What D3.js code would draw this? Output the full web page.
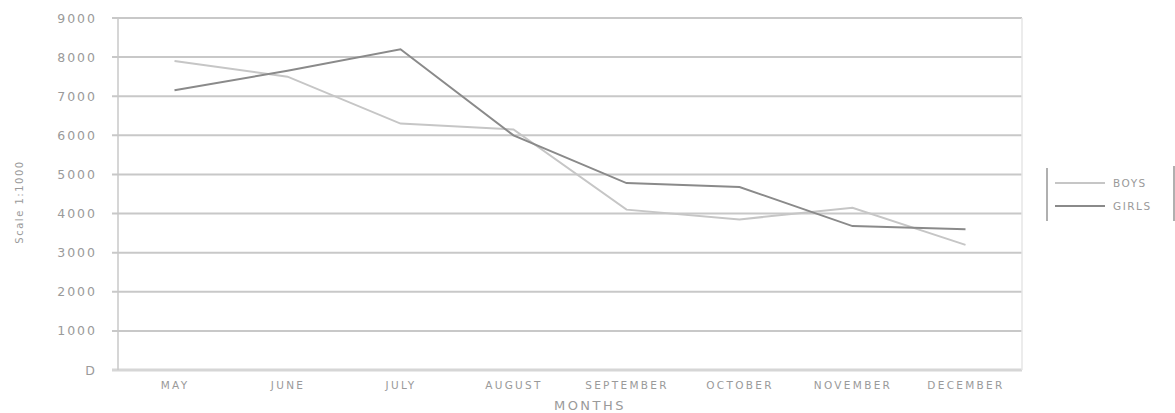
<!DOCTYPE html>
<html>
<head>
<meta charset="utf-8">
<script src="https://cdn.jsdelivr.net/npm/d3@7"></script>
<style>
  body { margin: 0; background: #fff; }
  text { font-family: "DejaVu Sans", sans-serif; fill: #9a9a9a; }
</style>
</head>
<body>
<div id="chart"></div>
<script>
// data
var months = ["MAY", "JUNE", "JULY", "AUGUST", "SEPTEMBER", "OCTOBER", "NOVEMBER", "DECEMBER"];
var boys  = [7900, 7500, 6300, 6150, 4100, 3850, 4150, 3200];
var girls = [7150, 7650, 8200, 6000, 4780, 4680, 3680, 3600];
var yTicks = [0, 1000, 2000, 3000, 4000, 5000, 6000, 7000, 8000, 9000];

var W = 1175, H = 413;
var margin = {top: 18, right: 153, bottom: 43, left: 118},
    width = W - margin.left - margin.right,
    height = H - margin.top - margin.bottom;

var svg = d3.select("#chart")
  .append("svg")
    .attr("width", W)
    .attr("height", H)
  .append("g")
    .attr("transform", "translate(" + margin.left + "," + margin.top + ")");

var x = d3.scalePoint()
  .domain(months)
  .range([0, width])
  .padding(0.5);

var y = d3.scaleLinear()
  .domain([0, 9000])
  .range([height, 0]);

// grid lines
svg.selectAll(".grid")
  .data(yTicks)
  .enter()
  .append("line")
    .attr("x1", -6)
    .attr("x2", width)
    .attr("y1", function(d) { return y(d); })
    .attr("y2", function(d) { return y(d); })
    .attr("stroke", function(d) { return d === 0 ? "#d6d6d6" : "#c8c8c8"; })
    .attr("stroke-width", function(d) { return d === 0 ? 3 : 2; });

// frame
svg.append("line")
  .attr("x1", 0).attr("x2", 0)
  .attr("y1", 0).attr("y2", height)
  .attr("stroke", "#c8c8c8").attr("stroke-width", 1.5);
svg.append("line")
  .attr("x1", width).attr("x2", width)
  .attr("y1", 0).attr("y2", height)
  .attr("stroke", "#e6e6e6").attr("stroke-width", 1.5);

// Y axis
var yAxis = svg.append("g")
  .call(d3.axisLeft(y).tickValues(yTicks).tickSize(0).tickPadding(21).tickFormat(function(d) { return d === 0 ? "D" : d; }));
yAxis.select(".domain").remove();
yAxis.selectAll("text").style("font-size", "12.5px").attr("letter-spacing", "2px").attr("fill", "#a6a6a6");

// X axis
var xAxis = svg.append("g")
  .attr("transform", "translate(0," + height + ")")
  .call(d3.axisBottom(x).tickSize(0).tickPadding(12));
xAxis.select(".domain").remove();
xAxis.selectAll("text").style("font-size", "10.5px").attr("letter-spacing", "2.3px").attr("fill", "#a6a6a6");

// axis titles
svg.append("text")
  .attr("x", width / 2 + 20)
  .attr("y", height + 40)
  .attr("text-anchor", "middle")
  .style("font-size", "13px")
  .attr("letter-spacing", "2.5px")
  .text("MONTHS");

svg.append("text")
  .attr("transform", "translate(" + (-95) + "," + (height / 2 + 8) + ")rotate(-90)")
  .attr("text-anchor", "middle")
  .style("font-size", "10px")
  .attr("letter-spacing", "1.5px")
  .attr("fill", "#a0a0a0")
  .text("Scale 1:1000");

// lines
var line = d3.line()
  .x(function(d, i) { return x(months[i]); })
  .y(function(d) { return y(d); });

svg.append("path")
  .datum(boys)
  .attr("d", line)
  .attr("fill", "none")
  .attr("stroke", "#c6c6c6")
  .attr("stroke-width", 2);

svg.append("path")
  .datum(girls)
  .attr("d", line)
  .attr("fill", "none")
  .attr("stroke", "#8a8a8a")
  .attr("stroke-width", 2);

// legend
var lg = svg.append("g")
  .attr("transform", "translate(" + (width + 25) + "," + 150 + ")");
lg.append("line").attr("x1", 0).attr("x2", 0).attr("y1", 0).attr("y2", 53)
  .attr("stroke", "#b0b0b0").attr("stroke-width", 2);
lg.append("line").attr("x1", 127).attr("x2", 127).attr("y1", -2).attr("y2", 53)
  .attr("stroke", "#b0b0b0").attr("stroke-width", 2);

var legendItems = [{name: "BOYS", color: "#c6c6c6"}, {name: "GIRLS", color: "#8a8a8a"}];
var li = lg.selectAll(".item")
  .data(legendItems)
  .enter()
  .append("g")
    .attr("transform", function(d, i) { return "translate(8," + (15 + i * 23) + ")"; });
li.append("line")
  .attr("x1", 0).attr("x2", 50)
  .attr("stroke", function(d) { return d.color; })
  .attr("stroke-width", 2);
li.append("text")
  .attr("x", 58)
  .attr("dy", "0.35em")
  .style("font-size", "10.5px")
  .attr("letter-spacing", "1.5px")
  .text(function(d) { return d.name; });
</script>
</body>
</html>
